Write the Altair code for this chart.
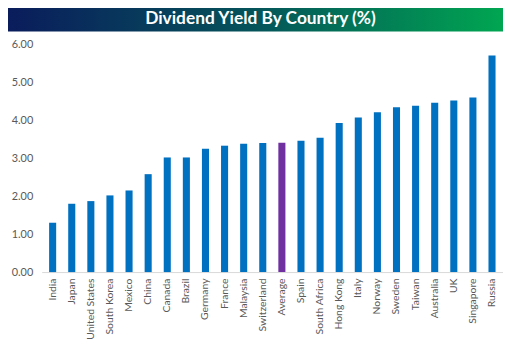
import altair as alt
import pandas as pd

countries = ["India", "Japan", "United States", "South Korea", "Mexico", "China",
             "Canada", "Brazil", "Germany", "France", "Malaysia", "Switzerland",
             "Average", "Spain", "South Africa", "Hong Kong", "Italy", "Norway",
             "Sweden", "Taiwan", "Australia", "UK", "Singapore", "Russia"]
yields = [1.30, 1.80, 1.87, 2.02, 2.15, 2.58, 3.02, 3.02, 3.25, 3.33, 3.38, 3.40,
          3.41, 3.46, 3.54, 3.93, 4.07, 4.21, 4.34, 4.38, 4.46, 4.52, 4.60, 5.71]
title = "Dividend Yield By Country (%)"

df = pd.DataFrame({"country": countries, "yield": yields,
                   "kind": ["avg" if c == "Average" else "country" for c in countries]})

W, H = 466, 230

bars = alt.Chart(df).mark_bar().encode(
    x=alt.X("country:N", sort=countries, title=None,
            scale=alt.Scale(paddingInner=0.63, paddingOuter=0.39),
            axis=alt.Axis(labelAngle=-90, ticks=False, domainColor="#d9d9d9",
                          labelColor="#595959", labelFont="Lato", labelFontSize=10.5,
                          labelPadding=6)),
    y=alt.Y("yield:Q", title=None, scale=alt.Scale(domain=[0, 6], nice=False),
            axis=alt.Axis(values=[0, 1, 2, 3, 4, 5, 6], format=".2f", grid=False,
                          domain=False, ticks=False, labelColor="#595959",
                          labelFont="Lato", labelFontSize=11, labelPadding=9)),
    color=alt.Color("kind:N", legend=None,
                    scale=alt.Scale(domain=["country", "avg"], range=["#0070c0", "#7030a0"])),
)

tdf = pd.DataFrame({"t": [title]})
banner = alt.Chart(tdf).mark_rect(
    color=alt.Gradient(gradient="linear",
                       stops=[alt.GradientStop(color="#0a1c5c", offset=0),
                              alt.GradientStop(color="#05545a", offset=0.5),
                              alt.GradientStop(color="#00a651", offset=1)],
                       x1=0, x2=1, y1=0, y2=0),
    clip=False,
).encode(x=alt.value(-34), x2=alt.value(W), y=alt.value(-40), y2=alt.value(-13))

ttext = alt.Chart(tdf).mark_text(
    font="Lato", fontWeight="bold", fontSize=17.5, color="white",
    align="center", baseline="middle", clip=False,
).encode(text="t:N", x=alt.value(221), y=alt.value(-26))

chart = alt.layer(banner, ttext, bars).properties(
    width=W, height=H,
    autosize=alt.AutoSizeParams(type="none"),
    padding={"left": 34, "top": 35, "right": 0, "bottom": 79},
).configure_view(stroke=None)

chart.save("out.html", embed_options={"renderer": "svg", "actions": False})
